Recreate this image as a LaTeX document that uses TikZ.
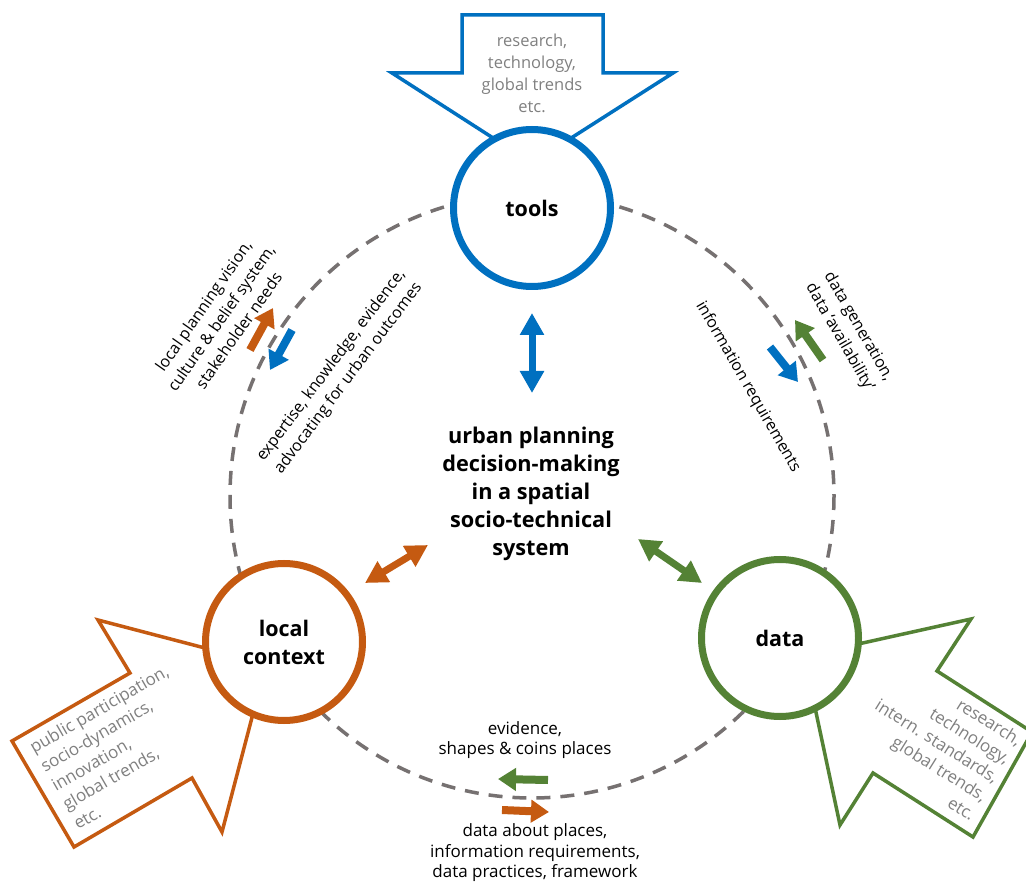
\documentclass[tikz,border=0pt]{standalone}
\usepackage{fontspec}
\setmainfont{Open Sans}
\usetikzlibrary{arrows.meta}
\definecolor{cblue}{HTML}{0070C0}
\definecolor{corange}{HTML}{C55A11}
\definecolor{cgreen}{HTML}{548235}
\definecolor{cgray}{HTML}{808080}
\definecolor{dgray}{HTML}{767171}
\tikzset{
  hub/.style={circle, draw, line width=7pt, fill=white, minimum size=157pt, inner sep=0pt,
    font=\bfseries\fontsize{21.5}{28}\selectfont, align=center},
  bigarrow/.style={line width=3.5pt, fill=white, line join=miter},
  graytxt/.style={text=cgray, font=\fontsize{17}{22}\selectfont},
  lbl/.style={font=\fontsize{16}{21.5}\selectfont, align=center, inner sep=0pt},
  botlbl/.style={font=\fontsize{17}{20.5}\selectfont, align=center, inner sep=0pt},
  sarrow/.style={line width=8pt, -{Triangle[width=22pt,length=18pt]}},
  dblarrow/.style={line width=7pt, {Triangle[width=23pt,length=22pt]}-{Triangle[width=23pt,length=22pt]}},
  ring/.style={draw=dgray, line width=3.5pt, dash pattern=on 14pt off 10pt}
}
\begin{document}
\begin{tikzpicture}[x=1pt,y=-1pt]
\clip (0,0) rectangle (1026,882);
\fill[white] (0,0) rectangle (1026,882);

% dashed ring
\draw[ring] (532,496) circle (302);

% incoming block arrows
\draw[bigarrow, draw=cblue] (462,15) -- (603,15) -- (603,73) -- (673,73) -- (532,163) -- (392,73) -- (462,73) -- cycle;
\draw[bigarrow, draw=corange] (12,741) -- (130,673) -- (98,620) -- (266,664) -- (222,832) -- (192,778) -- (74,847) -- cycle;
\draw[bigarrow, draw=cgreen] (937,671) -- (1032,732) -- (973,837) -- (873,773) -- (840,825) -- (804,656) -- (971,619) -- cycle;

% hubs
\node[hub, draw=cblue] (tools) at (532,208) {tools};
\node[hub, draw=corange] (local) at (284,642) {local\\context};
\node[hub, draw=cgreen] (data) at (780,638) {data};

% centre
\node[font=\bfseries\fontsize{21.7}{28}\selectfont, align=center] (centre) at (531,494)
  {urban planning\\decision-making\\in a spatial\\socio-technical\\system};

% texts in block arrows
\node[graytxt, font=\fontsize{16.5}{22}\selectfont, align=center] (ttools) at (532,73) {research,\\technology,\\global trends\\etc.};
\node[graytxt, align=left, rotate=30] (tlocal) at (121,747) {public participation,\\socio-dynamics,\\innovation,\\global trends,\\etc.};
\node[graytxt, align=right, rotate=-32] (tdata) at (937,741) {research,\\technology,\\intern. standards,\\global trends,\\etc.};

% double arrows between hubs and centre
\coordinate (bt) at (532,313); \coordinate (bb) at (532,393);
\coordinate (ot) at (365,583); \coordinate (ob) at (428,545);
\coordinate (gt) at (638,539); \coordinate (gb) at (702,583);
\draw[dblarrow, cblue] (bt) -- (bb);
\draw[dblarrow, corange] (ot) -- (ob);
\draw[dblarrow, cgreen] (gt) -- (gb);

% flow labels
\node[lbl, rotate=55] (l1) at (221,318) {local planning vision,\\culture \& belief system,\\stakeholder needs};
\node[lbl, rotate=53] (l2) at (340,372) {expertise, knowledge, evidence,\\advocating for urban outcomes};
\node[lbl, rotate=-60] (r1) at (748,387) {information requirements};
\node[lbl, rotate=-60] (r2) at (849,332) {data generation,\\data ‘availability’};
\node[botlbl] (b1) at (525,740) {evidence,\\shapes \& coins places};
\node[botlbl] (b2) at (535,853) {data about places,\\information requirements,\\data practices, framework};

% flow arrows
\coordinate (a1s) at (250,350); \coordinate (a1e) at (273,308);
\coordinate (a2s) at (292,330); \coordinate (a2e) at (270,370);
\coordinate (a3s) at (823,360); \coordinate (a3e) at (795,320);
\coordinate (a4s) at (770,347); \coordinate (a4e) at (798,382);
\coordinate (a5s) at (548,780); \coordinate (a5e) at (498,779);
\coordinate (a6s) at (502,810); \coordinate (a6e) at (549,812);
\draw[sarrow, corange] (a1s) -- (a1e);
\draw[sarrow, cblue] (a2s) -- (a2e);
\draw[sarrow, cgreen] (a3s) -- (a3e);
\draw[sarrow, cblue] (a4s) -- (a4e);
\draw[sarrow, cgreen] (a5s) -- (a5e);
\draw[sarrow, corange] (a6s) -- (a6e);
\end{tikzpicture}
\end{document}
